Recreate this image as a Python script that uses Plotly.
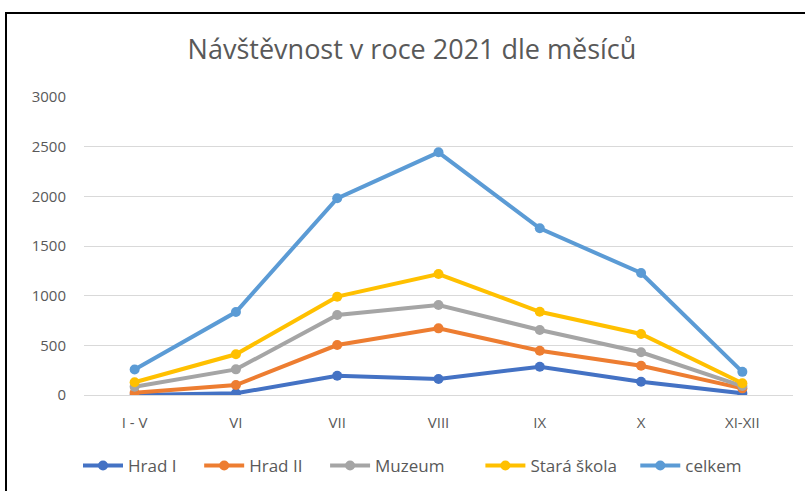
import plotly.graph_objects as go
import numpy as np

months = ["I - V", "VI", "VII", "VIII", "IX", "X", "XI-XII"]
hrad_1 = [0, 17, 194, 161, 285, 134, 17]
hrad_2 = [23, 83, 309, 510, 161, 161, 50]
muzeum = [61, 158, 302, 235, 208, 135, 23]
stara_skola = [44, 152, 185, 312, 184, 184, 28]
celkem = [128, 425, 990, 1225, 840, 614, 115]

names = ["Hrad I", "Hrad II", "Muzeum", "Stará škola", "celkem"]
series = [hrad_1, hrad_2, muzeum, stara_skola, celkem]
colors = ["#4472C4", "#ED7D31", "#A5A5A5", "#FFC000", "#5B9BD5"]
pads = [4, 4, 7, 3, 0]

# target plot area in screenshot: x 84..793, y 97..395 (body margin removed)
W, H = 805, 491
ml, mt = 84, 97
pw, ph = 709, 298
mr, mb = W - ml - pw, H - mt - ph

def px(xs):  # screenshot x -> paper
    return (xs - 84) / pw

def py(ys):  # screenshot y -> paper
    return (395 - ys) / ph

fig = go.Figure()
for n, s, c, p in zip(names, series, colors, pads):
    fig.add_trace(go.Scatter(
        x=months, y=s, name=n + "\u00a0" * p, mode="lines+markers", stackgroup="one", fill="none",
        line=dict(color=c, width=4), marker=dict(color=c, size=10),
    ))

font = "Open Sans, Liberation Sans, sans-serif"
fig.update_layout(
    width=W, height=H,
    margin=dict(l=ml, r=mr, t=mt, b=mb, autoexpand=False),
    paper_bgcolor="white", plot_bgcolor="white",
    font=dict(family=font, color="#595959", size=14),
    title=dict(text="Návštěvnost v roce 2021 dle měsíců", x=412 / W, xanchor="center",
               y=1 - 50 / H, yanchor="middle", font=dict(size=27, color="#595959", family=font)),
    xaxis=dict(type="category", range=[-0.5, 6.5], showgrid=False, showline=False,
               ticks="", tickfont=dict(size=15, color="#595959"), ticklabelstandoff=17),
    yaxis=dict(range=[0, 3000], dtick=500, gridcolor="#D9D9D9", gridwidth=1,
               zeroline=True, zerolinecolor="#D9D9D9", zerolinewidth=1,
               tickfont=dict(size=15, color="#595959"), ticklabelstandoff=17),
    legend=dict(orientation="h", x=px(78), xanchor="left", y=py(466), yanchor="middle",
                font=dict(size=17, color="#595959"), itemwidth=40, traceorder="normal"),
    showlegend=True,
    hovermode=False,
)
fig.add_shape(type="rect", xref="paper", yref="paper",
              x0=px(6), x1=px(812), y0=py(500), y1=py(13),
              line=dict(color="black", width=2), layer="above")
fig.write_html("out.html", config={"displayModeBar": False},
               post_script="document.body.style.margin='0';")
